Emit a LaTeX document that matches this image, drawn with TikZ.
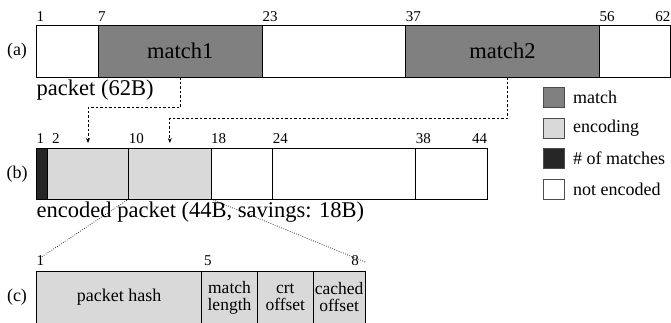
\documentclass[tikz,border=0pt]{standalone}
\usepackage{fontspec}
\setmainfont{Liberation Serif}
\usetikzlibrary{arrows.meta}

\definecolor{matchgray}{RGB}{128,128,128}
\definecolor{encgray}{RGB}{217,217,217}
\definecolor{cntdark}{RGB}{38,38,38}

\tikzset{
  cell/.style={draw=black, line width=1pt, inner sep=0pt, outer sep=0pt,
               anchor=north west, align=center},
  big/.style={font=\fontsize{22.5}{27}\selectfont},
  mid/.style={font=\fontsize{18}{18}\selectfont},
  twoline/.style={font=\fontsize{17.5}{17}\selectfont},
  num/.style={font=\fontsize{15}{18}\selectfont, inner sep=0pt, anchor=base west},
  numr/.style={num, anchor=base east},
  rowlabel/.style={mid, inner sep=0pt},
  caption/.style={big, inner sep=0pt, anchor=base west},
  conn/.style={line width=0.8pt, dash pattern=on 2.5pt off 2pt,
               -{Stealth[length=5pt,width=4pt]}, shorten >=5.5pt},
  zoomline/.style={line width=0.7pt, black, dash pattern=on 0.7pt off 1.6pt},
  legbox/.style={draw=black!70, line width=0.8pt, minimum width=21pt,
                 minimum height=20pt, inner sep=0pt, outer sep=0pt, anchor=north west},
  legtext/.style={mid, anchor=west, inner sep=0pt},
}

% one field of a packet: style, name, left x, right x, top y, bottom y, text
\newcommand\pktcell[7]{%
  \pgfmathsetmacro\cellw{#4-#3}%
  \pgfmathsetmacro\cellh{#6-#5}%
  \node[cell, #1, minimum width=\cellw pt, minimum height=\cellh pt] (#2) at (#3,#5) {#7};%
}

\begin{document}
\begin{tikzpicture}[x=1pt, y=-1pt]
  \useasboundingbox (0,0) rectangle (671,322);
  \clip (0,0) rectangle (671,322);

  % (a) original packet
  \node[rowlabel] (la) at (17,51) {(a)};
  \pktcell{fill=white}{a1}{36.5}{98}{25}{77}{}
  \pktcell{fill=matchgray, big}{m1}{98}{262.3}{25}{77}{match1}
  \pktcell{fill=white}{a2}{262.3}{405.7}{25}{77}{}
  \pktcell{fill=matchgray, big}{m2}{405.7}{599.3}{25}{77}{match2}
  \pktcell{fill=white}{a3}{599.3}{670}{25}{77}{}
  \node[num] (na1) at (36.5,21) {1};
  \node[num] (na7) at (98,21) {7};
  \node[num] (na23) at (262.3,21) {23};
  \node[num] (na37) at (405.7,21) {37};
  \node[num] (na56) at (599.3,21) {56};
  \node[numr] (na62) at (670.5,21) {62};
  \node[caption] (capa) at (36.5,95) {packet (62B)};

  % (b) encoded packet
  \node[rowlabel] (lb) at (17,174) {(b)};
  \pktcell{fill=cntdark}{cnt}{36.5}{47.3}{148.5}{199}{}
  \pktcell{fill=encgray}{e1}{47.3}{128.7}{148.5}{199}{}
  \pktcell{fill=encgray}{e2}{128.7}{211}{148.5}{199}{}
  \pktcell{fill=white}{b1}{211}{272.7}{148.5}{199}{}
  \pktcell{fill=white}{b2}{272.7}{415.7}{148.5}{199}{}
  \pktcell{fill=white}{b3}{415.7}{487.3}{148.5}{199}{}
  \node[num] (nb1) at (36.5,143.3) {1};
  \node[num] (nb2) at (52,143.3) {2};
  \node[num] (nb10) at (128.7,143.3) {10};
  \node[num] (nb18) at (211,143.3) {18};
  \node[num] (nb24) at (272.7,143.3) {24};
  \node[num] (nb38) at (415.7,143.3) {38};
  \node[numr] (nb44) at (487.3,143.3) {44};

  % (c) layout of one encoding field
  \node[rowlabel] (lc) at (17,297) {(c)};
  \pktcell{fill=encgray, mid}{c1}{36.5}{201.7}{271.7}{323}{packet hash}
  \pktcell{fill=encgray, twoline}{c2}{201.7}{257.3}{271.7}{323}{match\\length}
  \pktcell{fill=encgray, twoline}{c3}{257.3}{313.3}{271.7}{323}{crt\\offset}
  \pktcell{fill=encgray, twoline}{c4}{313.3}{365}{271.7}{323}{cached\\offset}
  \node[num] (nc1) at (36.5,265) {1};
  \node[num] (nc5) at (204,265) {5};
  \node[numr] (nc8) at (359,265) {8};

  % zoom from the encoding field to its layout
  \coordinate (zl) at (40,258);
  \coordinate (zr) at (365,262);
  \draw[zoomline] (e1.south east) -- (zl);
  \draw[zoomline] (e2.south east) -- (zr);
  \node[caption] (capb) at (36.5,217.5) {encoded packet (44B, savings: 18B)};

  % matches replaced by encodings
  \draw[conn] (m1.south) -- ++(0,30.5) -| (e1.north);
  \draw[conn] ([xshift=5pt]m2.south) -- ++(0,41) -| (e2.north);

  % legend
  \node[legbox, fill=matchgray] (k1) at (543,87) {};
  \node[legbox, fill=encgray] (k2) at (543,118) {};
  \node[legbox, fill=cntdark] (k3) at (543,148) {};
  \node[legbox, fill=white] (k4) at (543,179) {};
  \node[legtext] (t1) at ([xshift=9pt]k1.east) {match};
  \node[legtext] (t2) at ([xshift=9pt]k2.east) {encoding};
  \node[legtext] (t3) at ([xshift=9pt]k3.east) {\# of matches};
  \node[legtext] (t4) at ([xshift=9pt]k4.east) {not encoded};
\end{tikzpicture}
\end{document}
